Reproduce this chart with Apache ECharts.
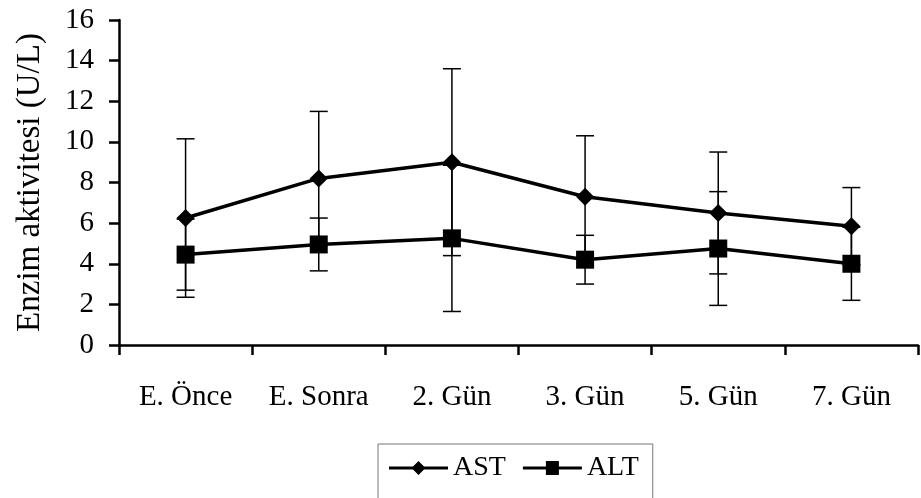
<!DOCTYPE html>
<html>
<head>
<meta charset="utf-8">
<script src="https://cdn.jsdelivr.net/npm/echarts@6/dist/echarts.min.js"></script>
<style>html,body{margin:0;padding:0;background:#fff;}#c{width:921px;height:498px;}</style>
</head>
<body>
<div id="c"></div>
<script>
var categories = ['E. Önce', 'E. Sonra', '2. Gün', '3. Gün', '5. Gün', '7. Gün'];
var astMean = [6.25, 8.2, 9.0, 7.3, 6.5, 5.85];
var astSd   = [3.9, 3.3, 4.6, 3.0, 3.0, 1.9];
var altMean = [4.45, 4.95, 5.25, 4.2, 4.75, 4.0];
var altSd   = [1.75, 1.3, 3.6, 1.2, 2.8, 1.8];
var yTicks = { min: 0, max: 16, interval: 2 };

var FONT = '"Liberation Serif", "Times New Roman", serif';
var ICON_AST = 'path://M0,5.5L24,5.5L29.5,0L35,5.5L59,5.5L59,8.5L35,8.5L29.5,14L24,8.5L0,8.5Z';
var ICON_ALT = 'path://M0,5.5L23,5.5L23,0L36,0L36,5.5L59,5.5L59,8.5L36,8.5L36,14L23,14L23,8.5L0,8.5Z';

function errData(m, s) {
  return m.map(function (v, i) { return [i, v, s[i]]; });
}
function errRender(params, api) {
  var i = api.value(0), m = api.value(1), s = api.value(2);
  var hi = api.coord([i, m + s]);
  var lo = api.coord([i, m - s]);
  var w = 9;
  var st = { stroke: '#000', lineWidth: 1.5 };
  return {
    type: 'group',
    children: [
      { type: 'line', shape: { x1: hi[0], y1: hi[1], x2: lo[0], y2: lo[1] }, style: st },
      { type: 'line', shape: { x1: hi[0] - w, y1: hi[1], x2: hi[0] + w, y2: hi[1] }, style: st },
      { type: 'line', shape: { x1: lo[0] - w, y1: lo[1], x2: lo[0] + w, y2: lo[1] }, style: st }
    ]
  };
}

var chart = echarts.init(document.getElementById('c'));
chart.setOption({
  animation: false,
  backgroundColor: '#fff',
  textStyle: { fontFamily: FONT, color: '#000' },
  grid: { left: 119, right: 3, top: 20, bottom: 153, containLabel: false, outerBoundsMode: 'none' },
  legend: {
    data: [{ name: 'AST', icon: ICON_AST }, { name: 'ALT', icon: ICON_ALT }],
    left: 378, top: 444,
    padding: [10, 14, 60, 11],
    itemGap: 17,
    itemWidth: 59, itemHeight: 14,
    borderColor: '#777', borderWidth: 1,
    textStyle: { fontFamily: FONT, fontSize: 28, color: '#000' }
  },
  xAxis: {
    type: 'category',
    data: categories,
    boundaryGap: true,
    axisLine: { lineStyle: { color: '#000', width: 2.5 } },
    axisTick: { show: true, length: 10, lineStyle: { color: '#000', width: 2.5 } },
    axisLabel: { fontFamily: FONT, fontSize: 29, color: '#000', margin: 38 },
    splitLine: { show: false }
  },
  yAxis: {
    type: 'value',
    min: yTicks.min, max: yTicks.max, interval: yTicks.interval,
    name: 'Enzim aktivitesi (U/L)',
    nameLocation: 'middle',
    nameGap: 72,
    nameTextStyle: { fontFamily: FONT, fontSize: 33, color: '#000' },
    axisLine: { show: true, lineStyle: { color: '#000', width: 2.5 } },
    axisTick: { show: true, length: 10, lineStyle: { color: '#000', width: 2.5 } },
    axisLabel: { fontFamily: FONT, fontSize: 29, color: '#000', margin: 25 },
    splitLine: { show: false }
  },
  series: [
    {
      name: 'AST err', type: 'custom', renderItem: errRender,
      data: errData(astMean, astSd), encode: { x: 0, y: 1 }, z: 1, silent: true
    },
    {
      name: 'ALT err', type: 'custom', renderItem: errRender,
      data: errData(altMean, altSd), encode: { x: 0, y: 1 }, z: 1, silent: true
    },
    {
      name: 'AST', type: 'line', data: astMean, z: 3,
      symbol: 'diamond', symbolSize: [18, 18],
      lineStyle: { color: '#000', width: 3.5 },
      itemStyle: { color: '#000' }
    },
    {
      name: 'ALT', type: 'line', data: altMean, z: 3,
      symbol: 'rect', symbolSize: 18,
      lineStyle: { color: '#000', width: 3.5 },
      itemStyle: { color: '#000' }
    }
  ]
});
</script>
</body>
</html>
